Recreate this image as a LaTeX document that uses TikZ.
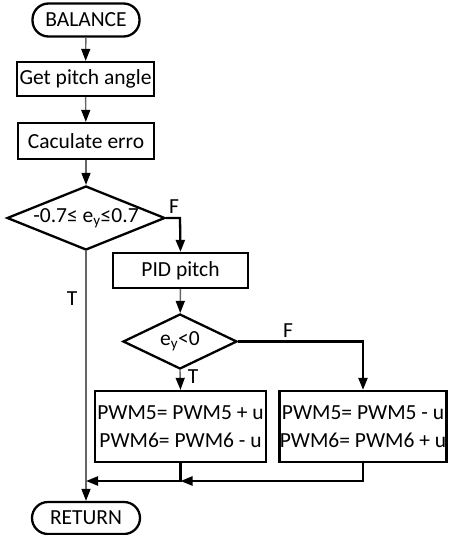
\documentclass[tikz,border=0pt]{standalone}
\usepackage{fontspec}
\setmainfont{Carlito}
\usetikzlibrary{arrows.meta,shapes.geometric}
\tikzset{
  box/.style={draw=black, line width=2.3pt, rectangle, inner sep=0pt, align=center, font=\fontsize{21.5}{27.5}\selectfont},
  term/.style={box, rounded corners=16pt},
  dec/.style={draw=black, line width=2.3pt, diamond, inner sep=0pt, font=\fontsize{21.5}{27}\selectfont},
  tip/.style={-{Triangle[length=12pt,width=9pt,color=black]}},
  thinline/.style={draw=black!60, line width=1.4pt, tip},
  thickline/.style={draw=black, line width=2.3pt, tip},
  lab/.style={font=\fontsize{21.5}{25}\selectfont, inner sep=0pt},
}
\begin{document}
\begin{tikzpicture}[x=1pt,y=-1pt]
\useasboundingbox (0,0) rectangle (448,535);
\node[term, minimum width=107pt, minimum height=33pt] (bal) at (86,20) {BALANCE};
\node[box, minimum width=137pt, minimum height=34pt] (get) at (85.5,79) {Get pitch angle};
\node[box, minimum width=136pt, minimum height=36pt] (calc) at (86,141) {Caculate erro};
\node[dec, minimum width=158pt, minimum height=64pt] (d1) at (86,218) {\makebox[0pt]{-0.7≤ e\textsubscript{y}≤0.7}};
\node[box, minimum width=135pt, minimum height=35pt] (pid) at (180.5,270.5) {PID pitch};
\node[dec, minimum width=114pt, minimum height=55pt] (d2) at (180,341.5) {\makebox[0pt]{e\textsubscript{y}<0}};
\node[box, minimum width=171pt, minimum height=71pt] (lb) at (180.5,426.5) {PWM5= PWM5 + u\\PWM6= PWM6 - u};
\node[box, minimum width=167pt, minimum height=71pt] (rb) at (363,426.5) {PWM5= PWM5 - u\\PWM6= PWM6 + u};
\node[term, minimum width=108pt, minimum height=32pt] (ret) at (86,518) {RETURN};

\coordinate (f1) at (180,218);
\coordinate (f2) at (363,341.5);
\coordinate (m1) at (180.5,481);
\coordinate (m0) at (86,481);
\coordinate (m2) at (363,481);

\draw[thinline] (bal) -- (get);
\draw[thinline] (get) -- (calc);
\draw[thinline] (calc) -- (d1);
\draw[thickline] (d1.east) -- (f1) -- (pid.north);
\draw[thinline] (pid) -- (d2);
\draw[thinline] (d2.south) -- (lb.north);
\draw[thickline] (d2.east) -- (f2) -- (rb.north);
\draw[thinline] (d1.south) -- (ret.north);
\draw[thickline] (lb.south) -- (m1) -- (m0);
\draw[thickline] (rb.south) -- (m2) -- (m1);

\node[lab] (lf1) at (174,207) {F};
\node[lab] (lt1) at (72,299) {T};
\node[lab] (lf2) at (288,331) {F};
\node[lab] (lt2) at (193,377) {T};
\end{tikzpicture}
\end{document}
